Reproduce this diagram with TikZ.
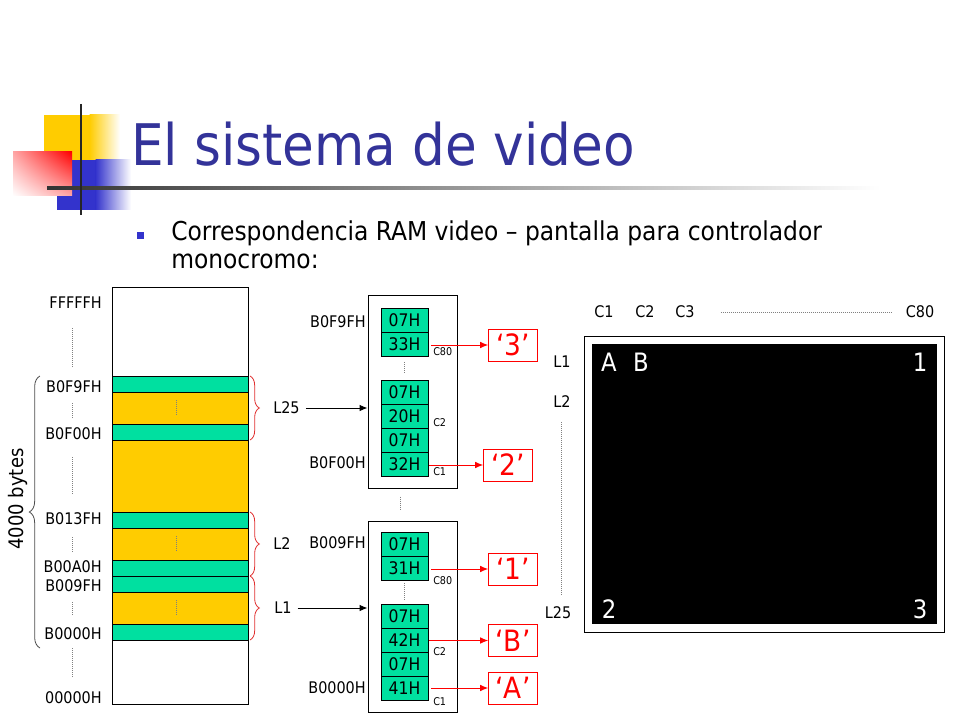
\documentclass[tikz,border=0pt]{standalone}
\usepackage{fontspec}
\setmainfont{DejaVu Sans Condensed}
\usetikzlibrary{arrows.meta,decorations.pathreplacing,calc,shadings}
\definecolor{cellgreen}{RGB}{0,224,160}
\definecolor{memyellow}{RGB}{255,204,0}
\definecolor{titleblue}{RGB}{51,51,153}
\definecolor{bulletblue}{RGB}{51,51,204}
\definecolor{logoyellow}{RGB}{255,204,0}
\definecolor{logoblue}{RGB}{51,51,204}
\definecolor{bracered}{RGB}{224,48,48}
\begin{document}
\begin{tikzpicture}[x=0.75pt,y=-0.75pt,
  addr/.style={anchor=east,inner sep=0pt,font=\fontsize{12pt}{14pt}\selectfont},
  lbl/.style={inner sep=0pt,font=\fontsize{12pt}{14pt}\selectfont},
  cell/.style={draw=black,line width=0.6pt,fill=cellgreen,minimum width=35.25pt,minimum height=18pt,inner sep=0pt,font=\fontsize{13pt}{14pt}\selectfont},
  tiny/.style={anchor=west,inner sep=0pt,font=\fontsize{8pt}{9pt}\selectfont},
  charbox/.style={draw=red,line width=0.75pt,text=red,minimum width=36.5pt,minimum height=24pt,inner sep=0pt,font=\fontsize{22pt}{24pt}\selectfont},
  bigbox/.style={draw=black,line width=0.75pt,minimum width=66.75pt,inner sep=0pt},
  scr/.style={text=white,inner sep=0pt,font=\fontsize{19pt}{21pt}\selectfont},
  redarrow/.style={draw=red,line width=0.75pt,-{Latex[length=6pt,width=5pt]}},
  blackarrow/.style={draw=black,line width=0.75pt,-{Latex[length=6pt,width=5pt]}},
  dots/.style={draw=gray,line width=0.5pt,densely dotted},
  band/.style={draw=black,line width=0.6pt}
]
\useasboundingbox (0,0) rectangle (960,720);

% ---------- logo ----------
\fill[logoyellow] (44,115) rectangle (90,187);
\shade[left color=logoyellow,right color=white] (89.5,115) rectangle (120,187);
\fill[logoblue] (57,160) rectangle (96,210);
\shade[left color=logoblue,right color=white] (95.5,160) rectangle (131,210);
\shade[upper right=red, upper left=red!35, lower right=red!35, lower left=white] (13,152) rectangle (72,196);
\shade[left color=black!80,right color=white] (47,186.5) rectangle (880,189.5);
\draw[black!85,line width=2.2pt] (81,104) -- (81,215);

% ---------- title ----------
\node[anchor=base west,inner sep=0pt,text=titleblue,font=\fontsize{43pt}{50pt}\selectfont] (title) at (131,166) {El sistema de video};
\fill[bulletblue] (137,232) rectangle (144,239);
\node[anchor=base west,inner sep=0pt,font=\fontsize{19.5pt}{22pt}\selectfont] (bul1) at (171,241) {Correspondencia RAM video – pantalla para controlador};
\node[anchor=base west,inner sep=0pt,font=\fontsize{19.5pt}{22pt}\selectfont] (bul2) at (171,269) {monocromo:};

% ---------- memory column ----------
\draw[line width=0.75pt] (112,288) rectangle (248,704);
\fill[memyellow] (112,392) rectangle (248,624);
\foreach \a/\b in {376/392,424/440,512/528,560/576,576/592,624/640}{
  \filldraw[band,fill=cellgreen] (112,\a) rectangle (248,\b);
}
\foreach \a/\b in {392/424,440/512,528/560,592/624}{
  \draw[band] (112,\a) rectangle (248,\b);
}
\foreach \y in {400,536,600}{
  \draw[dots] (176,\y) -- (176,\y+16);
}
\node[addr] (aF) at (102,303) {FFFFFH};
\node[addr] (a1) at (102,387) {B0F9FH};
\node[addr] (a2) at (102,434) {B0F00H};
\node[addr] (a3) at (102,519) {B013FH};
\node[addr] (a4) at (102,567) {B00A0H};
\node[addr] (a5) at (102,586) {B009FH};
\node[addr] (a6) at (102,634) {B0000H};
\node[addr] (a0) at (102,698) {00000H};
\foreach \a/\b in {328/367,403/418,457/495,537/552,602/615,648/678}{
  \draw[dots] (72,\a) -- (72,\b);
}
\draw[black!70,line width=0.6pt,decorate,decoration={brace,amplitude=8pt}] (40,648) -- (40,376);
\node[rotate=90,inner sep=0pt,font=\fontsize{15pt}{17pt}\selectfont] (bytes) at (18,499) {4000 bytes};

% red braces
\draw[bracered,line width=0.6pt,decorate,decoration={brace,amplitude=7pt}] (250,376) -- (250,440);
\draw[bracered,line width=0.6pt,decorate,decoration={brace,amplitude=7pt}] (250,512) -- (250,576);
\draw[bracered,line width=0.6pt,decorate,decoration={brace,amplitude=7pt}] (250,576) -- (250,640);
\node[lbl,anchor=west] (L25) at (273,408) {L25};
\node[lbl,anchor=west] (L2m) at (273,544) {L2};
\node[lbl,anchor=west] (L1m) at (274,608) {L1};

% ---------- upper detail box ----------
\node[bigbox,minimum height=144pt] (boxU) at (412.5,392) {};
\node[cell] (u1) at (404.5,320) {07H};
\node[cell] (u2) at (404.5,344) {33H};
\node[cell] (u3) at (404.5,392) {07H};
\node[cell] (u4) at (404.5,416) {20H};
\node[cell] (u5) at (404.5,440) {07H};
\node[cell] (u6) at (404.5,464) {32H};
\draw[dots] (u2.south) ++(0,6) -- ($(u3.north)+(0,-6)$);
\node[tiny] (cu80) at (433,352) {C80};
\node[tiny] (cu2) at (433,423) {C2};
\node[tiny] (cu1) at (433,472) {C1};
\node[addr] (ua1) at (366,322) {B0F9FH};
\node[addr] (ua2) at (366,463) {B0F00H};

% ---------- lower detail box ----------
\node[bigbox,minimum height=143.25pt] (boxL) at (412.5,616.5) {};
\node[cell] (l1) at (404.5,544) {07H};
\node[cell] (l2) at (404.5,568) {31H};
\node[cell] (l3) at (404.5,616) {07H};
\node[cell] (l4) at (404.5,640) {42H};
\node[cell] (l5) at (404.5,664) {07H};
\node[cell] (l6) at (404.5,688) {41H};
\draw[dots] (l2.south) ++(0,3) -- ($(l3.north)+(0,-4)$);
\node[tiny] (cl80) at (433,581) {C80};
\node[tiny] (cl2) at (433,652) {C2};
\node[tiny] (cl1) at (433,702) {C1};
\node[addr] (la1) at (366,543) {B009FH};
\node[addr] (la2) at (366,688) {B0000H};

\draw[dots] (boxU.south) ++(-12,8) -- ++(0,14);

% black arrows
\draw[blackarrow] (L25.east) ++(6,0) -- (boxU.west |- L25.east);
\draw[blackarrow] (L1m.east) ++(6,0) -- (boxL.west |- L1m.east);

% ---------- character boxes ----------
\node[charbox] (c3) at (513,345) {‘3’};
\node[charbox] (c2) at (508,465) {‘2’};
\node[charbox] (c1) at (513,569) {‘1’};
\node[charbox] (cB) at (513,640.5) {‘B’};
\node[charbox] (cA) at (513,688) {‘A’};
\draw[redarrow] (u2.east) ++(3,1) -- (c3.west);
\draw[redarrow] (u6.east) ++(1,1) -- (c2.west);
\draw[redarrow] (l2.east) ++(3,1) -- (c1.west);
\draw[redarrow] (l4.east) ++(1,0.5) -- (cB.west);
\draw[redarrow] (l6.east) ++(3,0) -- (cA.west);

% ---------- screen ----------
\draw[line width=0.75pt] (584,336) rectangle (944,632);
\fill[black] (592,344) rectangle (937,624);
\node[scr] (sA) at (609,362) {A};
\node[scr] (sB) at (641,362) {B};
\node[scr] (s1) at (920,362) {1};
\node[scr] (s2) at (609,609) {2};
\node[scr] (s3) at (920,609) {3};
\node[lbl] (C1) at (604,312) {C1};
\node[lbl] (C2) at (645,312) {C2};
\node[lbl] (C3) at (685,312) {C3};
\node[lbl] (C80) at (920,312) {C80};
\draw[dots] (C3.east) ++(26,0) -- ($(C80.west)+(-14,0)$);
\node[lbl] (L1) at (562,362) {L1};
\node[lbl] (L2) at (562,402) {L2};
\node[lbl] (L25s) at (558,613) {L25};
\draw[dots] (561,422) -- (561,595);
\end{tikzpicture}
\end{document}
